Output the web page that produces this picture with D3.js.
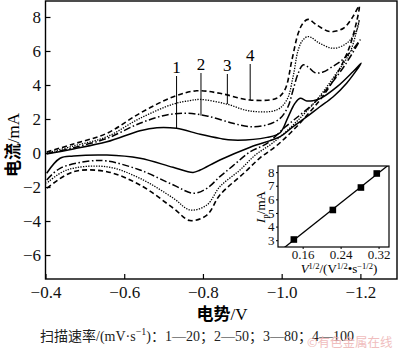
<!DOCTYPE html>
<html><head><meta charset="utf-8">
<script src="https://cdn.jsdelivr.net/npm/d3@7"></script>
<style>
html,body{margin:0;padding:0;background:#fff;}
svg{display:block;}
</style></head>
<body>
<svg id="chart" width="400" height="351"></svg>
<script>
// ---------- data ----------
// Curve 1: 20 mV/s (solid) [potential V, current mA], traced round the cycle
const curve1 = [
 [-0.403,-0.05],[-0.471,0.24],[-0.556,0.66],[-0.640,1.31],[-0.683,1.49],[-0.733,1.45],[-0.793,1.10],
 [-0.843,0.86],[-0.876,0.76],[-0.963,0.92],[-0.996,1.19],[-1.016,2.10],[-1.033,2.90],[-1.047,3.22],
 [-1.064,3.06],[-1.080,3.08],[-1.098,3.20],[-1.141,3.90],[-1.181,4.78],[-1.202,5.28],
 [-1.165,4.10],[-1.131,3.31],[-1.097,2.72],[-1.064,2.14],[-1.029,1.55],[-0.996,0.96],[-0.920,0.34],
 [-0.843,-0.41],[-0.793,-1.00],[-0.775,-1.14],[-0.724,-0.84],[-0.640,-0.31],[-0.556,-0.12],
 [-0.471,-0.18],[-0.437,-0.31],[-0.403,-1.19]
];
// Curve 2: 50 mV/s (dash-dot)
const curve2 = [
 [-0.403,-0.05],[-0.471,0.31],[-0.556,0.86],[-0.640,1.75],[-0.708,2.24],[-0.759,2.34],[-0.810,2.18],
 [-0.876,1.75],[-0.919,1.55],[-0.962,1.65],[-0.996,2.04],[-1.016,2.72],[-1.029,3.71],[-1.042,4.69],
 [-1.054,5.18],[-1.068,5.05],[-1.085,4.72],[-1.105,4.76],[-1.130,5.10],[-1.150,5.40],[-1.181,6.10],[-1.199,6.65],
 [-1.161,5.18],[-1.123,4.00],[-1.085,3.00],[-1.047,2.24],[-1.009,1.53],[-0.963,0.57],[-0.919,0.06],
 [-0.876,-0.76],[-0.843,-1.39],[-0.810,-2.08],[-0.776,-2.37],[-0.725,-1.88],[-0.640,-1.00],
 [-0.556,-0.47],[-0.513,-0.47],[-0.437,-0.90],[-0.403,-1.59]
];
// Curve 3: 80 mV/s (dotted)
const curve3 = [
 [-0.403,0.00],[-0.471,0.41],[-0.556,0.96],[-0.640,2.04],[-0.725,2.88],[-0.767,3.08],[-0.793,3.15],
 [-0.860,2.88],[-0.919,2.47],[-0.987,2.53],[-1.013,3.12],[-1.029,4.49],[-1.042,6.06],[-1.054,6.65],
 [-1.068,6.85],[-1.097,6.45],[-1.131,6.16],[-1.165,6.45],[-1.191,7.24],[-1.197,7.82],
 [-1.174,5.94],[-1.136,4.59],[-1.097,3.35],[-1.059,2.35],[-1.021,1.47],[-0.976,0.57],[-0.933,-0.12],
 [-0.894,-1.00],[-0.843,-1.98],[-0.810,-3.06],[-0.767,-3.35],[-0.725,-2.66],[-0.640,-1.49],
 [-0.556,-0.81],[-0.454,-1.00],[-0.403,-1.78]
];
// Curve 4: 100 mV/s (dashed)
const curve4 = [
 [-0.403,0.06],[-0.471,0.53],[-0.556,1.16],[-0.640,2.34],[-0.725,3.31],[-0.784,3.66],[-0.843,3.51],
 [-0.919,3.12],[-0.987,3.22],[-1.008,3.71],[-1.026,5.47],[-1.042,7.04],[-1.054,7.63],[-1.067,7.86],
 [-1.089,7.53],[-1.123,7.14],[-1.157,7.34],[-1.181,8.02],[-1.197,8.65],
 [-1.174,6.35],[-1.139,4.59],[-1.103,3.29],[-1.067,2.29],[-1.027,1.29],[-0.986,0.41],[-0.945,-0.29],
 [-0.907,-1.12],[-0.843,-2.47],[-0.810,-3.65],[-0.767,-3.97],[-0.725,-3.25],[-0.640,-1.88],
 [-0.556,-1.10],[-0.471,-1.10],[-0.403,-2.08]
];
const seriesNames = ["1","2","3","4"];
// label anchors: [potential at leader line, current at curve]
const labelPoints = [[-0.733,1.45],[-0.795,2.20],[-0.862,2.88],[-0.920,3.12]];

const xTicks = [-0.4,-0.6,-0.8,-1.0,-1.2];
const yTicks = [-6,-4,-2,0,2,4,6,8];

// inset: peak current vs square root of scan rate
const insetX = [0.1414,0.2236,0.2828,0.3162];
const insetY = [3.05,5.22,6.87,7.90];
const insetXTicks = [0.16,0.24,0.32];
const insetYTicks = [3,4,5,6,7,8];

const captionTail = "1—20；2—50；3—80；4—100";

// ---------- drawing ----------
const svg = d3.select("#chart");
const serif = "'Liberation Serif','Times New Roman',serif";
const cjk = "'Noto Sans CJK SC','Noto Sans',sans-serif";

const x = d3.scaleLinear().domain([-0.4,-1.293]).range([45.5,397]);
const y = d3.scaleLinear().domain([-7.41,8.94]).range([279,1]);

const styles = [
  {dash:null, w:1.5},
  {dash:"7,2.5,1.5,2.5", w:1.5},
  {dash:"1.3,1.3", w:1.3},
  {dash:"5,3", w:1.6}
];
const line = d3.line().x(d=>x(d[0])).y(d=>y(d[1])).curve(d3.curveCatmullRom.alpha(0.5));

[curve1,curve2,curve3,curve4].forEach((c,i)=>{
  svg.append("path").attr("d",line(c)).attr("fill","none")
    .attr("stroke","#000").attr("stroke-width",styles[i].w)
    .attr("stroke-dasharray",styles[i].dash);
});

// axes (ticks inward)
const xAxis = d3.axisBottom(x).tickValues(xTicks).tickSize(-5).tickPadding(6.5)
  .tickFormat(d=>d3.format(".1f")(d).replace("-","−"));
const gx = svg.append("g").attr("transform",`translate(0,${y.range()[0]})`).call(xAxis);
const yAxis = d3.axisLeft(y).tickValues(yTicks).tickSize(-5).tickPadding(4.5)
  .tickFormat(d=>String(d).replace("-","−"));
const gy = svg.append("g").attr("transform",`translate(${x.range()[0]},0)`).call(yAxis);
[gx,gy].forEach(g=>{
  g.select(".domain").remove();
  g.selectAll("text").attr("font-family",serif).attr("font-size",17).attr("fill","#111");
  g.selectAll("line").attr("stroke","#000").attr("stroke-width",1.2);
});
// frame
svg.append("rect").attr("x",x.range()[0]).attr("y",y.range()[1])
  .attr("width",x.range()[1]-x.range()[0]).attr("height",y.range()[0]-y.range()[1])
  .attr("fill","none").attr("stroke","#000").attr("stroke-width",1.4);

// series labels with leader lines
const labelTextY = [67,64,65,55];
labelPoints.forEach((p,i)=>{
  const lx = x(p[0]);
  svg.append("line").attr("x1",lx).attr("x2",lx)
    .attr("y1",labelTextY[i]+9).attr("y2",y(p[1]))
    .attr("stroke","#000").attr("stroke-width",1);
  svg.append("text").attr("x",lx).attr("y",labelTextY[i]+6)
    .attr("text-anchor","middle").attr("font-family",serif).attr("font-size",17)
    .text(seriesNames[i]);
});

// axis titles
const yt = svg.append("text").attr("transform","translate(19,145) rotate(-90)")
  .attr("text-anchor","middle").attr("font-size",17);
yt.append("tspan").attr("font-family",cjk).attr("font-weight","bold").text("电流");
yt.append("tspan").attr("font-family",serif).text("/mA");
const xt = svg.append("text").attr("x",222).attr("y",320)
  .attr("text-anchor","middle").attr("font-size",17);
xt.append("tspan").attr("font-family",cjk).attr("font-weight","bold").text("电势");
xt.append("tspan").attr("font-family",serif).text("/V");

// caption
const cap = svg.append("text").attr("x",40).attr("y",341).attr("font-size",14).attr("fill","#222");
cap.append("tspan").attr("font-family",cjk).text("扫描速率");
cap.append("tspan").attr("font-family",serif).text("/(mV·s");
cap.append("tspan").attr("font-family",serif).attr("font-size",10).attr("dy",-6).text("−1");
cap.append("tspan").attr("font-family",serif).attr("dy",6).text(")");
cap.append("tspan").attr("font-family",cjk).text("：");
captionTail.split("；").forEach((s,i,arr)=>{
  cap.append("tspan").attr("font-family",serif).text(s);
  if(i<arr.length-1) cap.append("tspan").attr("font-family",cjk).text("；");
});
// watermark
svg.append("text").attr("x",307).attr("y",347).attr("font-family",cjk).attr("font-size",12.5)
  .attr("fill","#eeb3b3").attr("opacity",0.85).text("©有色金属在线");

// ---------- inset ----------
const ix = d3.scaleLinear().domain([0.108,0.342]).range([278,389]);
const iy = d3.scaleLinear().domain([2.5,8.45]).range([247,166]);
svg.append("rect").attr("x",278).attr("y",166).attr("width",111).attr("height",81)
  .attr("fill","#fff").attr("stroke","#000").attr("stroke-width",1.2);
svg.append("clipPath").attr("id","ic").append("rect")
  .attr("x",278).attr("y",166).attr("width",111).attr("height",81);
// least squares fit line
const mx = d3.mean(insetX), my = d3.mean(insetY);
const slope = d3.sum(insetX.map((v,i)=>(v-mx)*(insetY[i]-my)))/d3.sum(insetX.map(v=>(v-mx)*(v-mx)));
const icpt = my - slope*mx;
const dom = ix.domain();
svg.append("line").attr("clip-path","url(#ic)")
  .attr("x1",ix(dom[0])).attr("y1",iy(icpt+slope*dom[0]))
  .attr("x2",ix(dom[1])).attr("y2",iy(icpt+slope*dom[1]))
  .attr("stroke","#000").attr("stroke-width",1.3);
svg.append("g").selectAll("rect").data(insetX).join("rect")
  .attr("x",(d)=>ix(d)-3.3).attr("y",(d,i)=>iy(insetY[i])-3.3)
  .attr("width",6.6).attr("height",6.6).attr("fill","#000");
const gix = svg.append("g").attr("transform","translate(0,247)")
  .call(d3.axisBottom(ix).tickValues(insetXTicks).tickSize(2).tickPadding(1).tickFormat(d3.format(".2f")));
const giy = svg.append("g").attr("transform","translate(278,0)")
  .call(d3.axisLeft(iy).tickValues(insetYTicks).tickSize(2).tickPadding(1.5).tickFormat(d3.format("d")));
[gix,giy].forEach(g=>{
  g.select(".domain").remove();
  g.selectAll("text").attr("font-family",serif).attr("font-size",13).attr("fill","#111");
  g.selectAll("line").attr("stroke","#000");
});
// inset titles
const iyt = svg.append("text").attr("transform","translate(265,207) rotate(-90)")
  .attr("text-anchor","middle").attr("font-family",serif).attr("font-size",13);
iyt.append("tspan").attr("font-style","italic").text("I");
iyt.append("tspan").attr("font-size",9).attr("dy",3).text("p");
iyt.append("tspan").attr("dy",-3).text("/mA");
const ixt = svg.append("text").attr("x",339).attr("y",273)
  .attr("text-anchor","middle").attr("font-family",serif).attr("font-size",13);
ixt.append("tspan").attr("font-style","italic").text("V");
ixt.append("tspan").attr("font-size",8.5).attr("dy",-4).text("1/2");
ixt.append("tspan").attr("dy",4).text("/(V");
ixt.append("tspan").attr("font-size",8.5).attr("dy",-4).text("1/2");
ixt.append("tspan").attr("dy",4).text("•s");
ixt.append("tspan").attr("font-size",8.5).attr("dy",-4).text("−1/2");
ixt.append("tspan").attr("dy",4).text(")");
</script>
</body></html>
